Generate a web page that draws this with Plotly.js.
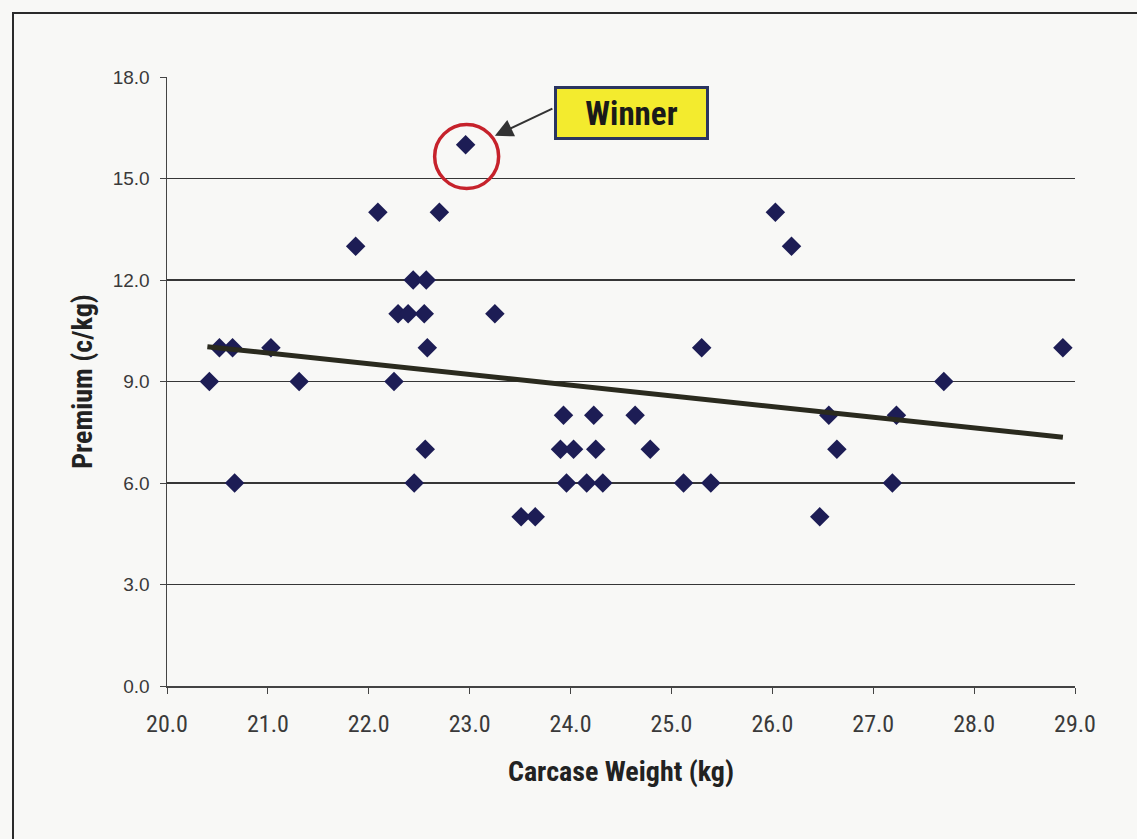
<!DOCTYPE html>
<html>
<head>
<meta charset="utf-8">
<script src="https://cdn.plot.ly/plotly-3.0.1.min.js"></script>
<style>
  html, body { margin: 0; padding: 0; background: #f8f8f6; }
  #chart { width: 1137px; height: 839px; }
  #chart .xtick text, #chart .g-xtitle text, #chart .g-ytitle text, #chart .annotation-text { font-stretch: condensed; }
</style>
</head>
<body>
<div id="chart"></div>
<script>
// Carcase weight (kg) of each entry
const weightKg = [20.42, 20.52, 20.65, 20.67, 21.03, 21.31, 21.87, 22.09, 22.25, 22.29,
                  22.39, 22.44, 22.45, 22.55, 22.57, 22.58, 22.56, 22.70, 22.96, 23.25,
                  23.51, 23.65, 23.93, 23.90, 24.03, 23.96, 24.23, 24.25, 24.16, 24.32,
                  24.64, 24.79, 25.12, 25.30, 25.39, 26.03, 26.19, 26.47, 26.56, 26.64,
                  27.19, 27.23, 27.70, 28.88];
// Premium (c/kg) of each entry
const premium = [9, 10, 10, 6, 10, 9, 13, 14, 9, 11,
                 11, 12, 6, 11, 12, 10, 7, 14, 16, 11,
                 5, 5, 8, 7, 7, 6, 8, 7, 6, 6,
                 8, 7, 6, 10, 6, 14, 13, 5, 8, 7,
                 6, 8, 9, 10];
// Linear trend line end points
const trendX = [20.40, 28.88];
const trendY = [10.03, 7.35];
// Winner entry
const winnerX = 22.97;
const winnerY = 15.65;
const winnerLabel = "Winner";

const narrow = 'Liberation Sans Narrow, Arial Narrow, Roboto Condensed, Liberation Sans, Arial, sans-serif';
const regular = 'Liberation Sans, Arial, sans-serif';

const traces = [
  {
    type: 'scatter', mode: 'markers',
    x: weightKg, y: premium,
    marker: { symbol: 'diamond', size: 15, color: '#1d1d55', line: { width: 0 } },
    hoverinfo: 'x+y', showlegend: false
  },
  {
    type: 'scatter', mode: 'lines',
    x: trendX, y: trendY,
    line: { color: '#2a2a1e', width: 5 },
    hoverinfo: 'skip', showlegend: false
  }
];

const layout = {
  width: 1137, height: 839,
  margin: { l: 167, r: 62, t: 77, b: 153, pad: 0 },
  paper_bgcolor: '#f8f8f6',
  plot_bgcolor: '#f8f8f6',
  showlegend: false,
  xaxis: {
    range: [20, 29], dtick: 1, tick0: 20, tickformat: '.1f',
    showgrid: false, zeroline: false,
    showline: true, linecolor: '#444', linewidth: 1.5,
    ticks: 'outside', ticklen: 6, tickcolor: '#444', tickwidth: 1,
    ticklabelstandoff: 10,
    tickfont: { family: narrow, size: 24, color: '#3a3a3a' },
    title: { text: 'Carcase Weight (kg)', standoff: 24,
             font: { family: narrow, size: 28, color: '#222', weight: 'bold' } }
  },
  yaxis: {
    range: [0, 18], dtick: 3, tick0: 0, tickformat: '.1f',
    showgrid: true, gridcolor: '#363636', gridwidth: 1.2, zeroline: false,
    showline: true, linecolor: '#444', linewidth: 1.5,
    ticks: 'outside', ticklen: 6, tickcolor: '#444', tickwidth: 1,
    ticklabelstandoff: 6,
    tickfont: { family: regular, size: 19, color: '#3a3a3a' },
    title: { text: 'Premium (c/kg)', standoff: 12,
             font: { family: narrow, size: 28, color: '#222', weight: 'bold' } }
  },
  shapes: [
    { type: 'rect', xref: 'paper', yref: 'paper',
      x0: -0.1696, x1: 1.08, y0: -0.27, y1: 1.1051,
      line: { color: '#2a2a2a', width: 2 }, fillcolor: 'rgba(0,0,0,0)', layer: 'below' },
    { type: 'circle', xref: 'x', yref: 'y',
      xsizemode: 'pixel', ysizemode: 'pixel',
      xanchor: winnerX, yanchor: winnerY,
      x0: -32, x1: 32, y0: -32, y1: 32,
      line: { color: '#c6222b', width: 3.5 } }
  ],
  annotations: [
    { xref: 'x', yref: 'y', x: 23.25, y: 16.26,
      text: '', showarrow: true, arrowhead: 2, arrowsize: 1.8, arrowwidth: 2,
      arrowcolor: '#333', ax: 59, ay: -28, standoff: 0 },
    { xref: 'x', yref: 'y', x: 24.60, y: 16.94,
      text: '<b>' + winnerLabel + '</b>', showarrow: false,
      font: { family: narrow, size: 33, color: '#1a1a1a' },
      bgcolor: '#f3eb2e', bordercolor: '#2a3560', borderwidth: 3,
      width: 147, height: 46, align: 'center', valign: 'middle' }
  ]
};

Plotly.newPlot('chart', traces, layout, { displayModeBar: false, staticPlot: true });
</script>
</body>
</html>
